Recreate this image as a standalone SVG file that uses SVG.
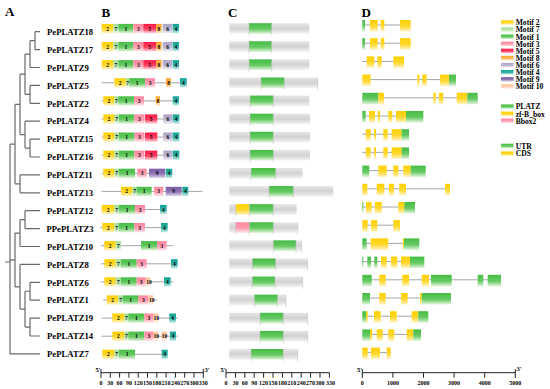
<svg xmlns="http://www.w3.org/2000/svg" width="550" height="389" viewBox="0 0 550 389">
<defs>
<linearGradient id="g2" x1="0" y1="0" x2="0" y2="1"><stop offset="0" stop-color="#ffd000"/><stop offset=".55" stop-color="#ffd82e"/><stop offset="1" stop-color="#fff4c8"/></linearGradient>
<linearGradient id="g7" x1="0" y1="0" x2="0" y2="1"><stop offset="0" stop-color="#a6df98"/><stop offset=".55" stop-color="#b6e6aa"/><stop offset="1" stop-color="#eef9ea"/></linearGradient>
<linearGradient id="g1" x1="0" y1="0" x2="0" y2="1"><stop offset="0" stop-color="#45bd45"/><stop offset=".55" stop-color="#66ca62"/><stop offset="1" stop-color="#e2f5dc"/></linearGradient>
<linearGradient id="g3" x1="0" y1="0" x2="0" y2="1"><stop offset="0" stop-color="#ff86a0"/><stop offset=".55" stop-color="#ff9cb0"/><stop offset="1" stop-color="#ffe6ec"/></linearGradient>
<linearGradient id="g5" x1="0" y1="0" x2="0" y2="1"><stop offset="0" stop-color="#ff1a46"/><stop offset=".55" stop-color="#ff3d60"/><stop offset="1" stop-color="#ffd4dc"/></linearGradient>
<linearGradient id="g8" x1="0" y1="0" x2="0" y2="1"><stop offset="0" stop-color="#ffa52e"/><stop offset=".55" stop-color="#ffb650"/><stop offset="1" stop-color="#ffeacc"/></linearGradient>
<linearGradient id="g6" x1="0" y1="0" x2="0" y2="1"><stop offset="0" stop-color="#aca4c6"/><stop offset=".55" stop-color="#bcb5d0"/><stop offset="1" stop-color="#eeebf3"/></linearGradient>
<linearGradient id="g4" x1="0" y1="0" x2="0" y2="1"><stop offset="0" stop-color="#11a394"/><stop offset=".55" stop-color="#36b3a6"/><stop offset="1" stop-color="#cdeeea"/></linearGradient>
<linearGradient id="g9" x1="0" y1="0" x2="0" y2="1"><stop offset="0" stop-color="#7a5ca6"/><stop offset=".55" stop-color="#9077b4"/><stop offset="1" stop-color="#e0d8ec"/></linearGradient>
<linearGradient id="g10" x1="0" y1="0" x2="0" y2="1"><stop offset="0" stop-color="#ffc298"/><stop offset=".55" stop-color="#ffcfae"/><stop offset="1" stop-color="#fff1e6"/></linearGradient>
<linearGradient id="gg" x1="0" y1="0" x2="0" y2="1"><stop offset="0" stop-color="#e6e6e6"/><stop offset=".5" stop-color="#d2d2d2"/><stop offset="1" stop-color="#f4f4f4"/></linearGradient>
</defs>
<style>
text{font-family:"Liberation Serif","Times New Roman",serif;font-weight:bold;fill:#000}
.P{font-size:13px}
.n{font-size:8.7px}
.d{font-size:5.5px;text-anchor:middle}
.ax{font-size:6px;text-anchor:middle}
.e{font-size:6.5px}
.lg{font-size:7.6px}
.tr{stroke:#6a6a6a;stroke-width:1.2;fill:none}
.bb{stroke:#9a9a9a;stroke-width:0.9}
.axl{stroke:#222;stroke-width:1;fill:none}
.sp{stroke:#c4c4c4;stroke-width:0.6}
.m2{fill:url(#g2)}.m7{fill:url(#g7)}.m1{fill:url(#g1)}.m3{fill:url(#g3)}.m5{fill:url(#g5)}
.m8{fill:url(#g8)}.m6{fill:url(#g6)}.m4{fill:url(#g4)}.m9{fill:url(#g9)}.m10{fill:url(#g10)}
.bar{fill:url(#gg)}
</style>
<rect width="550" height="389" fill="#fff"/>

<text class="P" x="5" y="16">A</text>
<text class="P" x="101.5" y="16.5">B</text>
<text class="P" x="228" y="16.5">C</text>
<text class="P" x="361.5" y="16.5">D</text>

<g id="connectors">
<path class="tr" d="M35 31.7H40M35 49.6H40M30 67.5H40M30 85.4H40M30 103.3H40M25 121.2H40M30 139.1H40M30 157H40M20 174.9H40M20 192.8H40M25 210.7H40M25 228.6H40M20 246.5H40M20 264.4H40M30 282.3H40M30 300.2H40M30 318.1H40M30 336H40M10 353.9H40
M35 31.7V49.6M30 40.65H35M30 40.65V67.5M25 54.1H30M30 85.4V103.3M25 94.35H30M25 54.1V94.35M20 74.2H25
M30 139.1V157M25 148.05H30M25 121.2V148.05M20 134.6H25M20 74.2V134.6M15 104.4H20
M20 174.9V192.8M15 183.85H20M15 104.4V183.85M10 144.1H15
M25 210.7V228.6M20 219.65H25M20 219.65V246.5M15 233.1H20
M30 282.3V300.2M25 291.25H30M30 318.1V336M25 327.05H30M25 291.25V327.05M20 309.15H25
M20 264.4V309.15M15 286.8H20M15 233.1V286.8M10 259.95H15
M10 144.1V353.9M5 262H10"/>
</g>

<g id="labels">
<text class="n" x="47" y="34.9">PePLATZ18</text>
<text class="n" x="47" y="52.8">PePLATZ17</text>
<text class="n" x="47" y="70.7">PePLATZ9</text>
<text class="n" x="47" y="88.6">PePLATZ5</text>
<text class="n" x="47" y="106.5">PePLATZ2</text>
<text class="n" x="47" y="124.4">PePLATZ4</text>
<text class="n" x="47" y="142.3">PePLATZ15</text>
<text class="n" x="47" y="160.2">PePLATZ16</text>
<text class="n" x="47" y="178.1">PePLATZ11</text>
<text class="n" x="47" y="196">PePLATZ13</text>
<text class="n" x="47" y="213.9">PePLATZ12</text>
<text class="n" x="46.5" y="231.8">PPePLATZ3</text>
<text class="n" x="47" y="249.7">PePLATZ10</text>
<text class="n" x="47" y="267.6">PePLATZ8</text>
<text class="n" x="47" y="285.5">PePLATZ6</text>
<text class="n" x="47" y="303.4">PePLATZ1</text>
<text class="n" x="47" y="321.3">PePLATZ19</text>
<text class="n" x="47" y="339.2">PePLATZ14</text>
<text class="n" x="47" y="357.1">PePLATZ7</text>
</g>

<g id="B">
<g id="b18" transform="translate(0,28.5)">
<rect class="m2" x="101.7" y="-4.6" width="11.6" height="9.3"/><rect class="m7" x="113.3" y="-4.6" width="5" height="9.3"/><rect class="m1" x="118.3" y="-4.6" width="15" height="9.3"/><rect class="m3" x="133.3" y="-4.6" width="10" height="9.3"/><rect class="m5" x="143.3" y="-4.6" width="12.7" height="9.3"/><rect class="m8" x="156" y="-4.6" width="5.7" height="9.3"/><rect class="m6" x="162.7" y="-4.6" width="9.6" height="9.3"/><rect class="m4" x="172.7" y="-4.6" width="6.3" height="9.3"/>
<text class="d" x="107.5" y="2">2</text><text class="d" x="115.8" y="2">7</text><text class="d" x="125.8" y="2">1</text><text class="d" x="138.3" y="2">3</text><text class="d" x="149.6" y="2">5</text><text class="d" x="158.8" y="2">8</text><text class="d" x="167.5" y="2">6</text><text class="d" x="175.8" y="2">4</text>
</g>
<g id="b17" transform="translate(0,46.6)">
<rect class="m2" x="101.7" y="-4.6" width="11.6" height="9.3"/><rect class="m7" x="113.3" y="-4.6" width="5" height="9.3"/><rect class="m1" x="118.3" y="-4.6" width="15" height="9.3"/><rect class="m3" x="133.3" y="-4.6" width="10" height="9.3"/><rect class="m5" x="143.3" y="-4.6" width="12.7" height="9.3"/><rect class="m8" x="156" y="-4.6" width="5.7" height="9.3"/><rect class="m6" x="162.7" y="-4.6" width="9.6" height="9.3"/><rect class="m4" x="172.7" y="-4.6" width="6.3" height="9.3"/>
<text class="d" x="107.5" y="2">2</text><text class="d" x="115.8" y="2">7</text><text class="d" x="125.8" y="2">1</text><text class="d" x="138.3" y="2">3</text><text class="d" x="149.6" y="2">5</text><text class="d" x="158.8" y="2">8</text><text class="d" x="167.5" y="2">6</text><text class="d" x="175.8" y="2">4</text>
</g>
<g id="b9" transform="translate(0,64.7)">
<rect class="m2" x="101.7" y="-4.6" width="11.6" height="9.3"/><rect class="m7" x="113.3" y="-4.6" width="5" height="9.3"/><rect class="m1" x="118.3" y="-4.6" width="15" height="9.3"/><rect class="m3" x="133.3" y="-4.6" width="10" height="9.3"/><rect class="m5" x="143.3" y="-4.6" width="12.7" height="9.3"/><rect class="m8" x="156" y="-4.6" width="5.7" height="9.3"/><rect class="m6" x="162.7" y="-4.6" width="9.6" height="9.3"/><rect class="m4" x="172.7" y="-4.6" width="6.3" height="9.3"/>
<text class="d" x="107.5" y="2">2</text><text class="d" x="115.8" y="2">7</text><text class="d" x="125.8" y="2">1</text><text class="d" x="138.3" y="2">3</text><text class="d" x="149.6" y="2">5</text><text class="d" x="158.8" y="2">8</text><text class="d" x="167.5" y="2">6</text><text class="d" x="175.8" y="2">4</text>
</g>
<g id="b5" transform="translate(0,82.8)">
<line class="bb" x1="101.7" y1="0" x2="186.7" y2="0"/>
<rect class="m2" x="114.3" y="-4.6" width="11.4" height="9.3"/><rect class="m7" x="125.7" y="-4.6" width="3.6" height="9.3"/><rect class="m1" x="129.3" y="-4.6" width="15.7" height="9.3"/><rect class="m3" x="145" y="-4.6" width="10" height="9.3"/><rect class="m8" x="166" y="-4.6" width="5" height="9.3"/><rect class="m4" x="180" y="-4.6" width="6.7" height="9.3"/>
<text class="d" x="120" y="2">2</text><text class="d" x="127.5" y="2">7</text><text class="d" x="137.1" y="2">1</text><text class="d" x="150" y="2">3</text><text class="d" x="168.5" y="2">8</text><text class="d" x="183.3" y="2">4</text>
</g>
<g id="b2" transform="translate(0,100.9)">
<line class="bb" x1="101.7" y1="0" x2="179" y2="0"/>
<rect class="m2" x="103.3" y="-4.6" width="11" height="9.3"/><rect class="m7" x="114.3" y="-4.6" width="4" height="9.3"/><rect class="m1" x="118.3" y="-4.6" width="15.7" height="9.3"/><rect class="m3" x="134" y="-4.6" width="10" height="9.3"/><rect class="m8" x="155.7" y="-4.6" width="4.3" height="9.3"/><rect class="m4" x="172.7" y="-4.6" width="6.3" height="9.3"/>
<text class="d" x="108.8" y="2">2</text><text class="d" x="116.3" y="2">7</text><text class="d" x="126.1" y="2">1</text><text class="d" x="139" y="2">3</text><text class="d" x="157.8" y="2">8</text><text class="d" x="175.8" y="2">4</text>
</g>
<g id="b4" transform="translate(0,119)">
<line class="bb" x1="101.7" y1="0" x2="179.3" y2="0"/>
<rect class="m2" x="103.3" y="-4.6" width="11" height="9.3"/><rect class="m7" x="114.3" y="-4.6" width="4.7" height="9.3"/><rect class="m1" x="119" y="-4.6" width="15.3" height="9.3"/><rect class="m3" x="134.3" y="-4.6" width="10" height="9.3"/><rect class="m5" x="145" y="-4.6" width="12.3" height="9.3"/><rect class="m6" x="163.3" y="-4.6" width="9" height="9.3"/><rect class="m4" x="172.7" y="-4.6" width="6.6" height="9.3"/>
<text class="d" x="108.8" y="2">2</text><text class="d" x="116.6" y="2">7</text><text class="d" x="126.6" y="2">1</text><text class="d" x="139.3" y="2">3</text><text class="d" x="151.1" y="2">5</text><text class="d" x="167.8" y="2">6</text><text class="d" x="176" y="2">4</text>
</g>
<g id="b15" transform="translate(0,137.1)">
<line class="bb" x1="101.7" y1="0" x2="179.3" y2="0"/>
<rect class="m2" x="103.3" y="-4.6" width="11" height="9.3"/><rect class="m7" x="114.3" y="-4.6" width="4.7" height="9.3"/><rect class="m1" x="119" y="-4.6" width="15.3" height="9.3"/><rect class="m3" x="134.3" y="-4.6" width="10" height="9.3"/><rect class="m5" x="145" y="-4.6" width="12.3" height="9.3"/><rect class="m6" x="163.3" y="-4.6" width="9" height="9.3"/><rect class="m4" x="172.7" y="-4.6" width="6.6" height="9.3"/>
<text class="d" x="108.8" y="2">2</text><text class="d" x="116.6" y="2">7</text><text class="d" x="126.6" y="2">1</text><text class="d" x="139.3" y="2">3</text><text class="d" x="151.1" y="2">5</text><text class="d" x="167.8" y="2">6</text><text class="d" x="176" y="2">4</text>
</g>
<g id="b16" transform="translate(0,155.2)">
<line class="bb" x1="101.7" y1="0" x2="179.3" y2="0"/>
<rect class="m2" x="103.3" y="-4.6" width="11" height="9.3"/><rect class="m7" x="114.3" y="-4.6" width="4.7" height="9.3"/><rect class="m1" x="119" y="-4.6" width="15.3" height="9.3"/><rect class="m3" x="134.3" y="-4.6" width="10" height="9.3"/><rect class="m5" x="145" y="-4.6" width="12.3" height="9.3"/><rect class="m6" x="163.3" y="-4.6" width="9" height="9.3"/><rect class="m4" x="172.7" y="-4.6" width="6.6" height="9.3"/>
<text class="d" x="108.8" y="2">2</text><text class="d" x="116.6" y="2">7</text><text class="d" x="126.6" y="2">1</text><text class="d" x="139.3" y="2">3</text><text class="d" x="151.1" y="2">5</text><text class="d" x="167.8" y="2">6</text><text class="d" x="176" y="2">4</text>
</g>
<g id="b11" transform="translate(0,173.3)">
<line class="bb" x1="101.7" y1="0" x2="172.3" y2="0"/>
<rect class="m2" x="103.3" y="-4.6" width="11" height="9.3"/><rect class="m7" x="114.3" y="-4.6" width="4.7" height="9.3"/><rect class="m1" x="119" y="-4.6" width="16" height="9.3"/><rect class="m3" x="137.3" y="-4.6" width="9.4" height="9.3"/><rect class="m9" x="149" y="-4.6" width="16" height="9.3"/><rect class="m4" x="165.7" y="-4.6" width="6.6" height="9.3"/>
<text class="d" x="108.8" y="2">2</text><text class="d" x="116.6" y="2">7</text><text class="d" x="127" y="2">1</text><text class="d" x="142" y="2">3</text><text class="d" x="157" y="2">9</text><text class="d" x="169" y="2">4</text>
</g>
<g id="b13" transform="translate(0,191.4)">
<line class="bb" x1="101.7" y1="0" x2="202.3" y2="0"/>
<rect class="m2" x="121" y="-4.6" width="11.3" height="9.3"/><rect class="m7" x="132.3" y="-4.6" width="4.4" height="9.3"/><rect class="m1" x="136.7" y="-4.6" width="15" height="9.3"/><rect class="m3" x="154" y="-4.6" width="9.3" height="9.3"/><rect class="m9" x="165.7" y="-4.6" width="16" height="9.3"/><rect class="m4" x="182.3" y="-4.6" width="6" height="9.3"/>
<text class="d" x="126.6" y="2">2</text><text class="d" x="134.5" y="2">7</text><text class="d" x="144.2" y="2">1</text><text class="d" x="158.6" y="2">3</text><text class="d" x="173.7" y="2">9</text><text class="d" x="185.3" y="2">4</text>
</g>
<g id="b12" transform="translate(0,209.5)">
<line class="bb" x1="101.7" y1="0" x2="166.7" y2="0"/>
<rect class="m2" x="101.7" y="-4.6" width="12.6" height="9.3"/><rect class="m7" x="114.3" y="-4.6" width="4.7" height="9.3"/><rect class="m1" x="119" y="-4.6" width="16" height="9.3"/><rect class="m3" x="135" y="-4.6" width="10" height="9.3"/><rect class="m4" x="160" y="-4.6" width="6.7" height="9.3"/>
<text class="d" x="108" y="2">2</text><text class="d" x="116.6" y="2">7</text><text class="d" x="127" y="2">1</text><text class="d" x="140" y="2">3</text><text class="d" x="163.3" y="2">4</text>
</g>
<g id="b3" transform="translate(0,227.6)">
<line class="bb" x1="100" y1="0" x2="167.7" y2="0"/>
<rect class="m2" x="102.3" y="-4.6" width="12" height="9.3"/><rect class="m7" x="114.3" y="-4.6" width="4.7" height="9.3"/><rect class="m1" x="119" y="-4.6" width="15.3" height="9.3"/><rect class="m3" x="134.3" y="-4.6" width="10.7" height="9.3"/><rect class="m4" x="161" y="-4.6" width="6.7" height="9.3"/>
<text class="d" x="108.3" y="2">2</text><text class="d" x="116.6" y="2">7</text><text class="d" x="126.6" y="2">1</text><text class="d" x="139.6" y="2">3</text><text class="d" x="164.3" y="2">4</text>
</g>
<g id="b10" transform="translate(0,245.7)">
<line class="bb" x1="101" y1="0" x2="173.3" y2="0"/>
<rect class="m2" x="104.3" y="-4.6" width="11.4" height="9.3"/><rect class="m7" x="115.7" y="-4.6" width="5.3" height="9.3"/><rect class="m1" x="141" y="-4.6" width="16" height="9.3"/><rect class="m3" x="157" y="-4.6" width="9.7" height="9.3"/>
<text class="d" x="110" y="2">2</text><text class="d" x="118.3" y="2">7</text><text class="d" x="149" y="2">1</text><text class="d" x="161.8" y="2">3</text>
</g>
<g id="b8" transform="translate(0,263.8)">
<line class="bb" x1="101" y1="0" x2="177.7" y2="0"/>
<rect class="m2" x="104.3" y="-4.6" width="11.4" height="9.3"/><rect class="m7" x="115.7" y="-4.6" width="5.3" height="9.3"/><rect class="m1" x="121" y="-4.6" width="15.7" height="9.3"/><rect class="m3" x="136.7" y="-4.6" width="10" height="9.3"/><rect class="m4" x="171" y="-4.6" width="6.7" height="9.3"/>
<text class="d" x="110" y="2">2</text><text class="d" x="118.3" y="2">7</text><text class="d" x="128.8" y="2">1</text><text class="d" x="141.7" y="2">3</text><text class="d" x="174.3" y="2">4</text>
</g>
<g id="b6" transform="translate(0,281.9)">
<line class="bb" x1="101" y1="0" x2="173.3" y2="0"/>
<rect class="m2" x="104.3" y="-4.6" width="11.4" height="9.3"/><rect class="m7" x="115.7" y="-4.6" width="5.3" height="9.3"/><rect class="m1" x="121" y="-4.6" width="15.7" height="9.3"/><rect class="m3" x="136.7" y="-4.6" width="9" height="9.3"/><rect class="m10" x="145.7" y="-4.6" width="4.3" height="9.3"/><rect class="m4" x="164" y="-4.6" width="6.7" height="9.3"/>
<text class="d" x="110" y="2">2</text><text class="d" x="118.3" y="2">7</text><text class="d" x="128.8" y="2">1</text><text class="d" x="141.2" y="2">3</text><text class="d" x="149" y="2">10</text><text class="d" x="167.3" y="2">4</text>
</g>
<g id="b1" transform="translate(0,300)">
<line class="bb" x1="103.3" y1="0" x2="156.7" y2="0"/>
<rect class="m2" x="106.7" y="-4.6" width="11.6" height="9.3"/><rect class="m7" x="118.3" y="-4.6" width="4.4" height="9.3"/><rect class="m1" x="122.7" y="-4.6" width="15.6" height="9.3"/><rect class="m3" x="138.3" y="-4.6" width="10" height="9.3"/><rect class="m10" x="148.3" y="-4.6" width="5" height="9.3"/>
<text class="d" x="112.5" y="2">2</text><text class="d" x="120.5" y="2">7</text><text class="d" x="130.5" y="2">1</text><text class="d" x="143.3" y="2">3</text><text class="d" x="151.8" y="2">10</text>
</g>
<g id="b19" transform="translate(0,318.1)">
<line class="bb" x1="101.7" y1="0" x2="177.7" y2="0"/>
<rect class="m2" x="112.3" y="-4.6" width="12" height="9.3"/><rect class="m7" x="124.3" y="-4.6" width="4" height="9.3"/><rect class="m1" x="128.3" y="-4.6" width="16" height="9.3"/><rect class="m3" x="144.3" y="-4.6" width="9" height="9.3"/><rect class="m10" x="153.3" y="-4.6" width="5" height="9.3"/><rect class="m4" x="169.3" y="-4.6" width="6.7" height="9.3"/>
<text class="d" x="118.3" y="2">2</text><text class="d" x="126.3" y="2">7</text><text class="d" x="136.3" y="2">1</text><text class="d" x="148.8" y="2">3</text><text class="d" x="156.3" y="2">10</text><text class="d" x="172.6" y="2">4</text>
</g>
<g id="b14" transform="translate(0,336.2)">
<line class="bb" x1="101.7" y1="0" x2="177.7" y2="0"/>
<rect class="m2" x="112.3" y="-4.6" width="12" height="9.3"/><rect class="m7" x="124.3" y="-4.6" width="4" height="9.3"/><rect class="m1" x="128.3" y="-4.6" width="16" height="9.3"/><rect class="m3" x="144.3" y="-4.6" width="9" height="9.3"/><rect class="m10" x="153.3" y="-4.6" width="5" height="9.3"/><rect class="m10" x="161.7" y="-4.6" width="5" height="9.3"/><rect class="m4" x="170" y="-4.6" width="6" height="9.3"/>
<text class="d" x="118.3" y="2">2</text><text class="d" x="126.3" y="2">7</text><text class="d" x="136.3" y="2">1</text><text class="d" x="148.8" y="2">3</text><text class="d" x="156.3" y="2">10</text><text class="d" x="164.5" y="2">10</text><text class="d" x="173" y="2">4</text>
</g>
<g id="b7" transform="translate(0,354.3)">
<line class="bb" x1="101.7" y1="0" x2="167.7" y2="0"/>
<rect class="m2" x="102.3" y="-4.6" width="12" height="9.3"/><rect class="m7" x="114.3" y="-4.6" width="4.7" height="9.3"/><rect class="m1" x="119" y="-4.6" width="16" height="9.3"/><rect class="m4" x="161.7" y="-4.6" width="6" height="9.3"/>
<text class="d" x="108.3" y="2">2</text><text class="d" x="116.6" y="2">7</text><text class="d" x="127" y="2">1</text><text class="d" x="164.7" y="2">4</text>
</g>
</g>

<g id="C">
<g transform="translate(0,28.5)"><rect class="bar" x="229.3" y="-5.3" width="80" height="10.6"/><rect class="m1" x="249" y="-5.3" width="22.7" height="10.6"/><path class="sp" d="M249 -5.3V7M271.7 -5.3V7"/></g>
<g transform="translate(0,46.6)"><rect class="bar" x="229.3" y="-5.3" width="80" height="10.6"/><rect class="m1" x="249" y="-5.3" width="22.7" height="10.6"/><path class="sp" d="M249 -5.3V7M271.7 -5.3V7"/></g>
<g transform="translate(0,64.7)"><rect class="bar" x="229.3" y="-5.3" width="80" height="10.6"/><rect class="m1" x="249" y="-5.3" width="22.7" height="10.6"/><path class="sp" d="M249 -5.3V7M271.7 -5.3V7"/></g>
<g transform="translate(0,82.8)"><rect class="bar" x="229.3" y="-5.3" width="88.4" height="10.6"/><rect class="m1" x="261" y="-5.3" width="23.3" height="10.6"/><path class="sp" d="M261 -5.3V7M284.3 -5.3V7M317.7 -5.3V7"/></g>
<g transform="translate(0,100.9)"><rect class="bar" x="229.3" y="-5.3" width="80" height="10.6"/><rect class="m1" x="250" y="-5.3" width="23.3" height="10.6"/><path class="sp" d="M250 -5.3V7M273.3 -5.3V7"/></g>
<g transform="translate(0,119)"><rect class="bar" x="229.3" y="-5.3" width="80.7" height="10.6"/><rect class="m1" x="250" y="-5.3" width="23.3" height="10.6"/><path class="sp" d="M250 -5.3V7M273.3 -5.3V7"/></g>
<g transform="translate(0,137.1)"><rect class="bar" x="229.3" y="-5.3" width="80.7" height="10.6"/><rect class="m1" x="250" y="-5.3" width="23.3" height="10.6"/><path class="sp" d="M250 -5.3V7M273.3 -5.3V7"/></g>
<g transform="translate(0,155.2)"><rect class="bar" x="229.3" y="-5.3" width="80.7" height="10.6"/><rect class="m1" x="250" y="-5.3" width="23.3" height="10.6"/><path class="sp" d="M250 -5.3V7M273.3 -5.3V7"/></g>
<g transform="translate(0,173.3)"><rect class="bar" x="229.3" y="-5.3" width="73.4" height="10.6"/><rect class="m1" x="251" y="-5.3" width="24.7" height="10.6"/><path class="sp" d="M251 -5.3V7M275.7 -5.3V7"/></g>
<g transform="translate(0,191.4)"><rect class="bar" x="229.3" y="-5.3" width="104" height="10.6"/><rect class="m1" x="269" y="-5.3" width="24.3" height="10.6"/><path class="sp" d="M269 -5.3V7M293.3 -5.3V7"/></g>
<g transform="translate(0,209.5)"><rect class="bar" x="229.3" y="-5.3" width="67.4" height="10.6"/><rect class="m2" x="235.7" y="-5.3" width="13.6" height="10.6"/><rect class="m1" x="249.3" y="-5.3" width="24" height="10.6"/><path class="sp" d="M235.7 -5.3V7M249.3 -5.3V7M273.3 -5.3V7"/></g>
<g transform="translate(0,227.6)"><rect class="bar" x="229.3" y="-5.3" width="68.4" height="10.6"/><rect class="m3" x="235.7" y="-5.3" width="13.6" height="10.6"/><rect class="m1" x="249.3" y="-5.3" width="24" height="10.6"/><path class="sp" d="M235.7 -5.3V7M249.3 -5.3V7M273.3 -5.3V7M297.7 -5.3V7"/></g>
<g transform="translate(0,245.7)"><rect class="bar" x="229.3" y="-5.3" width="72.4" height="10.6"/><rect class="m1" x="273.3" y="-5.3" width="22.7" height="10.6"/><path class="sp" d="M273.3 -5.3V7M296 -5.3V7M301.7 -5.3V7"/></g>
<g transform="translate(0,263.8)"><rect class="bar" x="229.3" y="-5.3" width="78.4" height="10.6"/><rect class="m1" x="252.3" y="-5.3" width="23.4" height="10.6"/><path class="sp" d="M252.3 -5.3V7M275.7 -5.3V7M307.7 -5.3V7"/></g>
<g transform="translate(0,281.9)"><rect class="bar" x="229.3" y="-5.3" width="73.4" height="10.6"/><rect class="m1" x="252.3" y="-5.3" width="22.7" height="10.6"/><path class="sp" d="M252.3 -5.3V7M275 -5.3V7M302.7 -5.3V7"/></g>
<g transform="translate(0,300)"><rect class="bar" x="229.3" y="-5.3" width="56.7" height="10.6"/><rect class="m1" x="254.3" y="-5.3" width="23.4" height="10.6"/><path class="sp" d="M254.3 -5.3V7M277.7 -5.3V7M286 -5.3V7"/></g>
<g transform="translate(0,318.1)"><rect class="bar" x="229.3" y="-5.3" width="78.4" height="10.6"/><rect class="m1" x="260" y="-5.3" width="23.3" height="10.6"/><path class="sp" d="M260 -5.3V7M283.3 -5.3V7M307.7 -5.3V7"/></g>
<g transform="translate(0,336.2)"><rect class="bar" x="229.3" y="-5.3" width="78.4" height="10.6"/><rect class="m1" x="260" y="-5.3" width="23.3" height="10.6"/><path class="sp" d="M260 -5.3V7M283.3 -5.3V7M307.7 -5.3V7"/></g>
<g transform="translate(0,354.3)"><rect class="bar" x="229.3" y="-5.3" width="68.4" height="10.6"/><rect class="m1" x="251" y="-5.3" width="32.3" height="10.6"/><path class="sp" d="M251 -5.3V7M283.3 -5.3V7M297.7 -5.3V7"/></g>
</g>

<g id="D">
<g transform="translate(0,26)"><line class="bb" x1="362.3" y1="-1" x2="410.7" y2="-1"/><rect class="m1" x="362.3" y="-6" width="2.7" height="11.5"/><rect class="m2" x="370" y="-6" width="7.7" height="11.5"/><rect class="m2" x="380.7" y="-6" width="3.6" height="11.5"/><rect class="m2" x="400" y="-6" width="10.7" height="11.5"/></g>
<g transform="translate(0,44.2)"><line class="bb" x1="362.3" y1="-1" x2="410.7" y2="-1"/><rect class="m1" x="362.3" y="-6" width="2.7" height="11.5"/><rect class="m2" x="370" y="-6" width="7.7" height="11.5"/><rect class="m2" x="380.7" y="-6" width="3.6" height="11.5"/><rect class="m2" x="400" y="-6" width="10.7" height="11.5"/></g>
<g transform="translate(0,62.4)"><line class="bb" x1="362.3" y1="-1" x2="404" y2="-1"/><rect class="m2" x="366.7" y="-6" width="7.6" height="11.5"/><rect class="m2" x="377.3" y="-6" width="4.4" height="11.5"/><rect class="m2" x="393.3" y="-6" width="10.7" height="11.5"/></g>
<g transform="translate(0,80.6)"><line class="bb" x1="362.3" y1="-1" x2="456" y2="-1"/><rect class="m2" x="362.3" y="-6" width="8.4" height="11.5"/><rect class="m2" x="417.3" y="-6" width="2" height="11.5"/><rect class="m2" x="422.3" y="-6" width="4.4" height="11.5"/><rect class="m2" x="440" y="-6" width="9" height="11.5"/><rect class="m1" x="449" y="-6" width="7" height="11.5"/></g>
<g transform="translate(0,98.8)"><line class="bb" x1="362.3" y1="-1" x2="477.7" y2="-1"/><rect class="m1" x="362.3" y="-6" width="16" height="11.5"/><rect class="m2" x="378.3" y="-6" width="5.7" height="11.5"/><rect class="m2" x="433.3" y="-6" width="2.4" height="11.5"/><rect class="m2" x="439" y="-6" width="4.3" height="11.5"/><rect class="m2" x="456.7" y="-6" width="10.6" height="11.5"/><rect class="m1" x="467.3" y="-6" width="10.4" height="11.5"/></g>
<g transform="translate(0,117)"><line class="bb" x1="362.3" y1="-1" x2="423.3" y2="-1"/><rect class="m1" x="362.3" y="-6" width="3.4" height="11.5"/><rect class="m2" x="369" y="-6" width="6" height="11.5"/><rect class="m2" x="377.7" y="-6" width="2.3" height="11.5"/><rect class="m2" x="388.3" y="-6" width="4" height="11.5"/><rect class="m2" x="396" y="-6" width="10" height="11.5"/><rect class="m1" x="406" y="-6" width="17.3" height="11.5"/></g>
<g transform="translate(0,135.2)"><line class="bb" x1="362.3" y1="-1" x2="409" y2="-1"/><rect class="m2" x="365.7" y="-6" width="5" height="11.5"/><rect class="m2" x="374" y="-6" width="2" height="11.5"/><rect class="m2" x="383.3" y="-6" width="4.4" height="11.5"/><rect class="m2" x="391.7" y="-6" width="10" height="11.5"/><rect class="m1" x="401.7" y="-6" width="7.3" height="11.5"/></g>
<g transform="translate(0,153.4)"><line class="bb" x1="362.3" y1="-1" x2="409" y2="-1"/><rect class="m2" x="365.7" y="-6" width="5" height="11.5"/><rect class="m2" x="374" y="-6" width="2" height="11.5"/><rect class="m2" x="383.3" y="-6" width="4.4" height="11.5"/><rect class="m2" x="391.7" y="-6" width="10" height="11.5"/><rect class="m1" x="401.7" y="-6" width="7.3" height="11.5"/></g>
<g transform="translate(0,171.6)"><line class="bb" x1="362.3" y1="-1" x2="425.7" y2="-1"/><rect class="m1" x="362.3" y="-6" width="7" height="11.5"/><rect class="m2" x="378.3" y="-6" width="8.4" height="11.5"/><rect class="m2" x="393.3" y="-6" width="5" height="11.5"/><rect class="m2" x="403.3" y="-6" width="7.4" height="11.5"/><rect class="m1" x="410.7" y="-6" width="15" height="11.5"/></g>
<g transform="translate(0,189.8)"><line class="bb" x1="362.3" y1="-1" x2="450" y2="-1"/><rect class="m2" x="362.3" y="-6" width="5" height="11.5"/><rect class="m2" x="376.7" y="-6" width="7.6" height="11.5"/><rect class="m2" x="389" y="-6" width="5" height="11.5"/><rect class="m2" x="399.3" y="-6" width="6.7" height="11.5"/><rect class="m2" x="445" y="-6" width="5" height="11.5"/></g>
<g transform="translate(0,208)"><line class="bb" x1="362.3" y1="-1" x2="415" y2="-1"/><rect class="m1" x="362.3" y="-6" width="1" height="11.5"/><rect class="m2" x="366" y="-6" width="5.7" height="11.5"/><rect class="m2" x="375" y="-6" width="6.7" height="11.5"/><rect class="m2" x="398.3" y="-6" width="6" height="11.5"/><rect class="m1" x="404.3" y="-6" width="10.7" height="11.5"/></g>
<g transform="translate(0,226.2)"><line class="bb" x1="362.3" y1="-1" x2="400" y2="-1"/><rect class="m2" x="362.3" y="-6" width="5.4" height="11.5"/><rect class="m2" x="371" y="-6" width="6.3" height="11.5"/><rect class="m2" x="393.3" y="-6" width="6.7" height="11.5"/></g>
<g transform="translate(0,244.4)"><line class="bb" x1="362.3" y1="-1" x2="419.3" y2="-1"/><rect class="m1" x="362.3" y="-6" width="4.4" height="11.5"/><rect class="m2" x="370.7" y="-6" width="17.6" height="11.5"/><rect class="m2" x="402.7" y="-6" width="1.3" height="11.5"/><rect class="m1" x="404" y="-6" width="15.3" height="11.5"/></g>
<g transform="translate(0,262.6)"><line class="bb" x1="362.3" y1="-1" x2="424.3" y2="-1"/><rect class="m1" x="362.3" y="-6" width="1" height="11.5"/><rect class="m1" x="367.3" y="-6" width="3.7" height="11.5"/><rect class="m1" x="374.3" y="-6" width="3" height="11.5"/><rect class="m2" x="381" y="-6" width="5.7" height="11.5"/><rect class="m2" x="391" y="-6" width="6.3" height="11.5"/><rect class="m2" x="401" y="-6" width="9" height="11.5"/><rect class="m1" x="410" y="-6" width="14.3" height="11.5"/></g>
<g transform="translate(0,280.8)"><line class="bb" x1="362.3" y1="-1" x2="501" y2="-1"/><rect class="m1" x="362.3" y="-6" width="9.4" height="11.5"/><rect class="m2" x="379.3" y="-6" width="6.4" height="11.5"/><rect class="m2" x="402.3" y="-6" width="6.7" height="11.5"/><rect class="m2" x="421.7" y="-6" width="7.3" height="11.5"/><rect class="m1" x="431" y="-6" width="20.7" height="11.5"/><rect class="m1" x="477.7" y="-6" width="5.6" height="11.5"/><rect class="m1" x="487.7" y="-6" width="13.3" height="11.5"/></g>
<g transform="translate(0,299)"><line class="bb" x1="362.3" y1="-1" x2="451" y2="-1"/><rect class="m1" x="362.3" y="-6" width="7.7" height="11.5"/><rect class="m2" x="379.3" y="-6" width="6.4" height="11.5"/><rect class="m2" x="401" y="-6" width="6.7" height="11.5"/><rect class="m2" x="420" y="-6" width="1.7" height="11.5"/><rect class="m1" x="421.7" y="-6" width="29.3" height="11.5"/></g>
<g transform="translate(0,317.2)"><line class="bb" x1="362.3" y1="-1" x2="428.3" y2="-1"/><rect class="m1" x="362.3" y="-6" width="3.7" height="11.5"/><rect class="m2" x="366" y="-6" width="1.7" height="11.5"/><rect class="m2" x="374" y="-6" width="6.7" height="11.5"/><rect class="m2" x="390" y="-6" width="6.7" height="11.5"/><rect class="m2" x="411.7" y="-6" width="6.6" height="11.5"/><rect class="m1" x="418.3" y="-6" width="10" height="11.5"/></g>
<g transform="translate(0,335.4)"><line class="bb" x1="362.3" y1="-1" x2="421" y2="-1"/><rect class="m1" x="362.3" y="-6" width="7.7" height="11.5"/><rect class="m2" x="370" y="-6" width="2.3" height="11.5"/><rect class="m2" x="376.7" y="-6" width="6" height="11.5"/><rect class="m2" x="388.3" y="-6" width="6" height="11.5"/><rect class="m2" x="406.7" y="-6" width="6.6" height="11.5"/><rect class="m1" x="413.3" y="-6" width="7.7" height="11.5"/></g>
<g transform="translate(0,353.6)"><line class="bb" x1="362.3" y1="-1" x2="390.7" y2="-1"/><rect class="m2" x="362.3" y="-6" width="5.4" height="11.5"/><rect class="m2" x="371" y="-6" width="9" height="11.5"/><rect class="m2" x="386.7" y="-6" width="4" height="11.5"/></g>
</g>

<g id="axes">
<path class="axl" d="M101 372.7H203.3M101 369V378M110.3 372.7v5M119.6 372.7v5M128.9 372.7v5M138.2 372.7v5M147.5 372.7v5M156.8 372.7v5M166.1 372.7v5M175.4 372.7v5M184.7 372.7v5M194 372.7v5M203.3 369V378"/>
<text class="e" x="95.5" y="372">5'</text><text class="e" x="204.5" y="372">3'</text>
<text class="ax" x="101" y="385">0</text><text class="ax" x="110.3" y="385">30</text><text class="ax" x="119.6" y="385">60</text><text class="ax" x="128.9" y="385">90</text><text class="ax" x="138.2" y="385">120</text><text class="ax" x="147.5" y="385">150</text><text class="ax" x="156.8" y="385">180</text><text class="ax" x="166.1" y="385">210</text><text class="ax" x="175.4" y="385">240</text><text class="ax" x="184.7" y="385">270</text><text class="ax" x="194" y="385">300</text><text class="ax" x="203.3" y="385">330</text>

<path class="axl" d="M226 372.7H329.4M226 369V378M235.4 372.7v5M244.8 372.7v5M254.2 372.7v5M263.6 372.7v5M273 372.7v5M282.4 372.7v5M291.8 372.7v5M301.2 372.7v5M310.6 372.7v5M320 372.7v5M329.4 372.7v5"/>
<text class="e" x="220.5" y="372">5'</text>
<text class="ax" x="226" y="385">0</text><text class="ax" x="235.4" y="385">30</text><text class="ax" x="244.8" y="385">60</text><text class="ax" x="254.2" y="385">90</text><text class="ax" x="263.6" y="385">120</text><text class="ax" x="273" y="385">150</text><text class="ax" x="282.4" y="385">180</text><text class="ax" x="291.8" y="385">210</text><text class="ax" x="301.2" y="385">240</text><text class="ax" x="310.6" y="385">270</text><text class="ax" x="320" y="385">300</text><text class="ax" x="330.5" y="385">330</text>

<path class="axl" d="M362.3 372.7H515.3M362.3 369V378M392.9 372.7v5M423.5 372.7v5M454.1 372.7v5M484.7 372.7v5M515.3 369V378"/>
<text class="e" x="357" y="372">5'</text><text class="e" x="516.5" y="371">3'</text>
<text class="ax" x="362.3" y="385">0</text><text class="ax" x="392.9" y="385">1000</text><text class="ax" x="423.5" y="385">2000</text><text class="ax" x="454.1" y="385">3000</text><text class="ax" x="484.7" y="385">4000</text><text class="ax" x="515.3" y="385">5000</text>
</g>

<g id="legend">
<rect class="m2" x="501" y="20.3" width="12.5" height="4.5"/><text class="lg" x="515.7" y="25.3">Motif 2</text>
<rect class="m7" x="501" y="27.4" width="12.5" height="4.5"/><text class="lg" x="515.7" y="32.4">Motif 7</text>
<rect class="m1" x="501" y="34.5" width="12.5" height="4.5"/><text class="lg" x="515.7" y="39.5">Motif 1</text>
<rect class="m3" x="501" y="41.6" width="12.5" height="4.5"/><text class="lg" x="515.7" y="46.6">Motif 3</text>
<rect class="m5" x="501" y="48.7" width="12.5" height="4.5"/><text class="lg" x="515.7" y="53.7">Motif 5</text>
<rect class="m8" x="501" y="55.8" width="12.5" height="4.5"/><text class="lg" x="515.7" y="60.8">Motif 8</text>
<rect class="m6" x="501" y="62.9" width="12.5" height="4.5"/><text class="lg" x="515.7" y="67.9">Motif 6</text>
<rect class="m4" x="501" y="70" width="12.5" height="4.5"/><text class="lg" x="515.7" y="75">Motif 4</text>
<rect class="m9" x="501" y="77.1" width="12.5" height="4.5"/><text class="lg" x="515.7" y="82.1">Motif 9</text>
<rect class="m10" x="501" y="84.2" width="12.5" height="4.5"/><text class="lg" x="515.7" y="89.2">Motif 10</text>
<rect class="m1" x="501" y="104.4" width="12.5" height="4.5"/><text class="lg" x="515.7" y="109.4">PLATZ</text>
<rect class="m2" x="501" y="111.6" width="12.5" height="4.5"/><text class="lg" x="515.7" y="116.6">zf-B_box</text>
<rect class="m3" x="501" y="118.5" width="12.5" height="4.5"/><text class="lg" x="515.7" y="123.5">Bbox2</text>
<rect class="m1" x="501" y="143.7" width="12.5" height="4.5"/><text class="lg" x="515.7" y="148.7">UTR</text>
<rect class="m2" x="501" y="151.4" width="12.5" height="4.5"/><text class="lg" x="515.7" y="156.4">CDS</text>
</g>
</svg>
